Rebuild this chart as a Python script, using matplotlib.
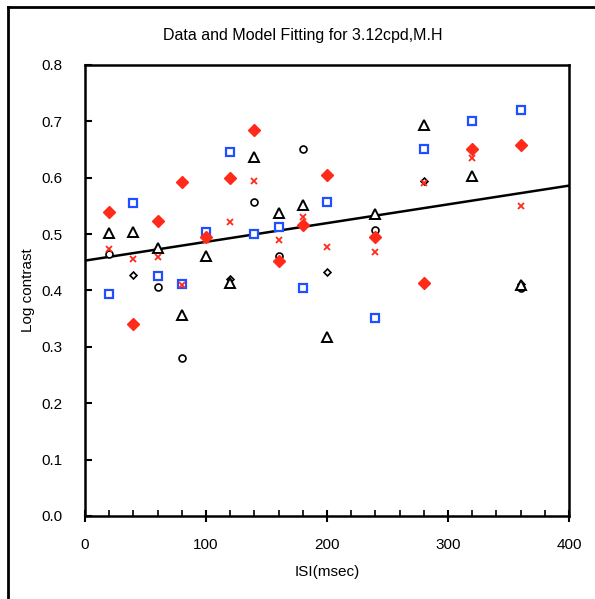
import numpy as np
import matplotlib.pyplot as plt
from matplotlib.lines import Line2D
from matplotlib.ticker import MultipleLocator

plt.rcParams['font.family'] = ['Liberation Sans', 'DejaVu Sans']

nan = np.nan
isi = [20, 40, 60, 80, 100, 120, 140, 160, 180, 200, 240, 280, 320, 360]

red_diamond = [0.540, 0.340, 0.523, 0.592, 0.495, 0.600, 0.684, 0.452, 0.517, 0.605, 0.494, 0.414, 0.651, 0.658]
red_x = [0.474, 0.456, 0.459, 0.410, 0.490, 0.521, 0.595, 0.490, 0.530, 0.477, 0.468, 0.590, 0.635, 0.550]
blue_square = [0.393, 0.555, 0.425, 0.412, 0.503, 0.646, 0.500, 0.512, 0.404, 0.557, 0.352, 0.651, 0.700, 0.720]
triangle = [0.502, 0.504, 0.476, 0.357, 0.462, 0.413, 0.637, 0.537, 0.552, 0.317, 0.535, 0.693, 0.603, 0.409]
circle = [0.465, nan, 0.407, 0.280, nan, nan, 0.557, 0.462, 0.651, nan, 0.507, nan, nan, 0.405]
small_diamond = [nan, 0.427, nan, nan, nan, 0.420, nan, nan, nan, 0.432, nan, 0.595, nan, 0.412]

# fitted model line (end points)
model_isi = [0, 400]
model_val = [0.453, 0.586]

fig = plt.figure(figsize=(5.95, 5.99), dpi=100)
ax = fig.add_axes([0.1429, 0.1386, 0.8134, 0.7529])

ax.plot(model_isi, model_val, color='black', lw=1.8, zorder=2)

ax.plot(isi, circle, 'o', ms=5, mfc='white', mec='black', mew=1.2, ls='none', zorder=3)
ax.plot(isi, small_diamond, 'D', ms=3.5, mfc='white', mec='black', mew=1.2, ls='none', zorder=3)
ax.plot(isi, triangle, '^', ms=6.5, mfc='white', mec='black', mew=1.4, ls='none', zorder=3)
ax.plot(isi, blue_square, 's', ms=5.5, mfc='white', mec='#1f4fff', mew=1.6, ls='none', zorder=4)
ax.plot(isi, red_x, 'x', ms=4.5, color='#ff2a1a', mew=1.3, ls='none', zorder=4)
ax.plot(isi, red_diamond, 'D', ms=6.5, color='#ff2a1a', ls='none', zorder=5)

ax.set_xlim(0, 400)
ax.set_ylim(0, 0.8)
ax.xaxis.set_major_locator(MultipleLocator(100))
ax.xaxis.set_minor_locator(MultipleLocator(20))
ax.yaxis.set_major_locator(MultipleLocator(0.1))
ax.yaxis.set_major_formatter(plt.FormatStrFormatter('%.1f'))
ax.tick_params(axis='x', which='major', direction='inout', length=8, width=1.5, labelsize=11, pad=12)
ax.tick_params(axis='x', which='minor', direction='in', length=4, width=1.2)
ax.tick_params(axis='y', which='major', direction='in', length=5, width=1.5, labelsize=11, pad=16)
for s in ax.spines.values():
    s.set_linewidth(1.8)

ax.set_xlabel('ISI(msec)', fontsize=11, labelpad=9)
ax.set_ylabel('Log contrast', fontsize=11, labelpad=5)
fig.text(0.508, 0.941, 'Data and Model Fitting for 3.12cpd,M.H', ha='center', va='center', fontsize=11.5)

# outer frame (left and top edges visible)
fig.add_artist(Line2D([0.0135, 0.0135], [0, 0.9883], color='black', lw=2))
fig.add_artist(Line2D([0.0135, 1.0], [0.9883, 0.9883], color='black', lw=2))

fig.savefig('out.png', dpi=100)
